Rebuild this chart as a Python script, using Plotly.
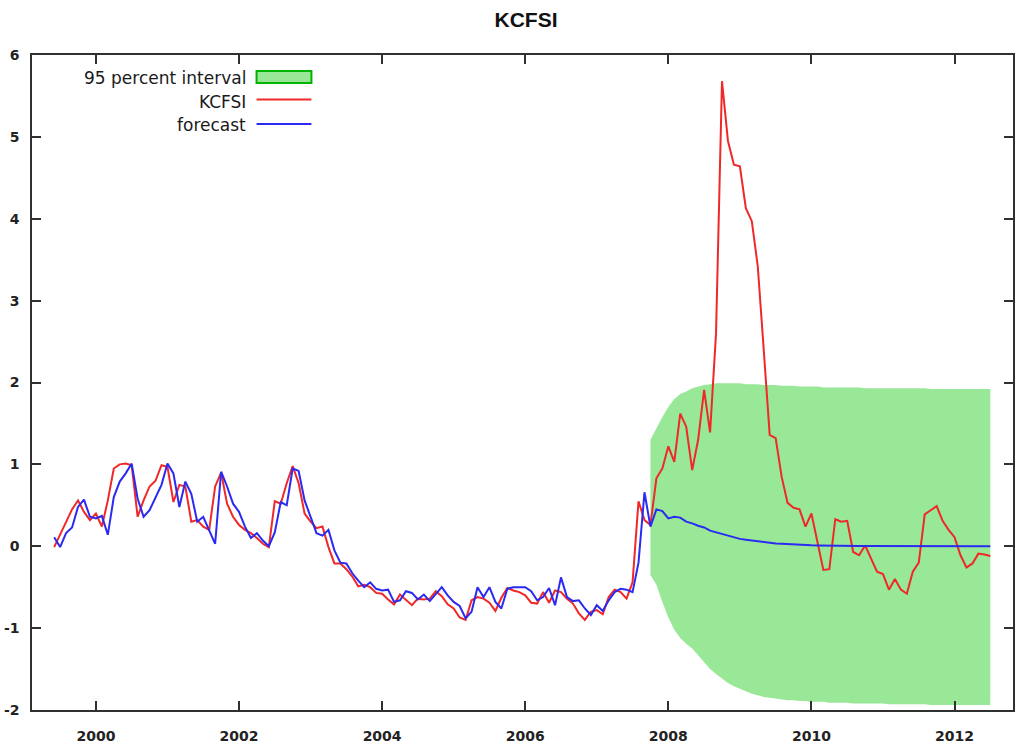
import plotly.graph_objects as go

# ---- data (monthly, 1999:06 .. 2012:07) ----
start_year, start_month = 1999, 6

kcfsi = [
    -0.01, 0.15, 0.30, 0.45, 0.56, 0.42, 0.32, 0.40, 0.24, 0.56,
    0.95, 1.00, 1.01, 0.99, 0.36, 0.56, 0.73, 0.80, 0.99, 0.97,
    0.54, 0.75, 0.73, 0.30, 0.32, 0.24, 0.20, 0.73, 0.90, 0.52,
    0.36, 0.26, 0.20, 0.16, 0.10, 0.03, -0.01, 0.55, 0.52, 0.77,
    0.98, 0.77, 0.40, 0.30, 0.22, 0.24, -0.01, -0.21, -0.21, -0.28,
    -0.37, -0.49, -0.47, -0.50, -0.57, -0.58, -0.65, -0.71, -0.59, -0.65,
    -0.72, -0.64, -0.65, -0.64, -0.55, -0.61, -0.71, -0.76, -0.87, -0.90,
    -0.66, -0.62, -0.64, -0.69, -0.79, -0.63, -0.51, -0.54, -0.56, -0.60,
    -0.69, -0.70, -0.56, -0.69, -0.54, -0.56, -0.64, -0.70, -0.82, -0.90,
    -0.80, -0.78, -0.83, -0.62, -0.53, -0.56, -0.64, -0.44, 0.55, 0.32,
    0.26, 0.83, 0.95, 1.22, 1.03, 1.62, 1.46, 0.93, 1.30, 1.91,
    1.39, 2.60, 5.68, 4.95, 4.66, 4.64, 4.13, 3.97, 3.42, 2.40,
    1.36, 1.32, 0.85, 0.53, 0.47, 0.45, 0.24, 0.40, 0.05, -0.29,
    -0.28, 0.33, 0.30, 0.31, -0.07, -0.11, 0.01, -0.15, -0.31, -0.34,
    -0.53, -0.40, -0.53, -0.58, -0.31, -0.20, 0.39, 0.44, 0.49, 0.31,
    0.20, 0.11, -0.11, -0.26, -0.21, -0.09, -0.10, -0.12,
]

forecast = [
    0.11, -0.01, 0.16, 0.23, 0.48, 0.57, 0.36, 0.34, 0.37, 0.14,
    0.60, 0.79, 0.89, 1.01, 0.58, 0.36, 0.44, 0.60, 0.75, 1.01,
    0.89, 0.48, 0.79, 0.64, 0.30, 0.36, 0.20, 0.03, 0.91, 0.73,
    0.52, 0.42, 0.24, 0.10, 0.16, 0.07, 0.00, 0.17, 0.54, 0.50,
    0.95, 0.92, 0.56, 0.36, 0.16, 0.13, 0.20, -0.05, -0.20, -0.21,
    -0.33, -0.42, -0.50, -0.44, -0.52, -0.54, -0.53, -0.68, -0.66, -0.55,
    -0.57, -0.65, -0.59, -0.67, -0.58, -0.50, -0.60, -0.68, -0.73, -0.88,
    -0.80, -0.50, -0.62, -0.50, -0.68, -0.76, -0.52, -0.50, -0.50, -0.50,
    -0.55, -0.66, -0.62, -0.51, -0.72, -0.38, -0.62, -0.67, -0.66, -0.76,
    -0.84, -0.72, -0.79, -0.66, -0.56, -0.52, -0.53, -0.56, -0.20, 0.66,
    0.24, 0.45, 0.43, 0.34, 0.36, 0.35, 0.30, 0.28, 0.25, 0.23,
    0.19, 0.17, 0.15, 0.13, 0.11, 0.09, 0.08, 0.07, 0.06, 0.05,
    0.04, 0.035, 0.03, 0.025, 0.02, 0.018, 0.015, 0.012, 0.010, 0.008,
    0.007, 0.006, 0.005, 0.004, 0.004, 0.003, 0.003, 0.003, 0.002, 0.002,
    0.002, 0.002, 0.001, 0.001, 0.001, 0.001, 0.001, 0.001, 0.0, 0.0,
    0.0, 0.0, 0.0, 0.0, 0.0, 0.0, 0.0, 0.0,
]

# 95 percent interval, from 2007:10 to 2012:07
band_start_index = 100
band_upper = [
    1.30, 1.44, 1.58, 1.70, 1.80, 1.86, 1.89, 1.93, 1.95, 1.97,
    1.98, 1.99, 1.99, 1.99, 1.99, 1.99, 1.98, 1.98, 1.98, 1.97,
    1.97, 1.97, 1.96, 1.96, 1.96, 1.95, 1.95, 1.95, 1.95, 1.94,
    1.94, 1.94, 1.94, 1.94, 1.94, 1.94, 1.93, 1.93, 1.93, 1.93,
    1.93, 1.93, 1.93, 1.93, 1.93, 1.93, 1.93, 1.92, 1.92, 1.92,
    1.92, 1.92, 1.92, 1.92, 1.92, 1.92, 1.92, 1.92,
]
band_lower = [
    -0.35, -0.47, -0.68, -0.87, -1.02, -1.12, -1.19, -1.25, -1.33, -1.42,
    -1.50, -1.56, -1.62, -1.67, -1.71, -1.74, -1.77, -1.80, -1.82, -1.84,
    -1.85, -1.86, -1.87, -1.88, -1.88, -1.89, -1.89, -1.90, -1.90, -1.90,
    -1.91, -1.91, -1.91, -1.91, -1.92, -1.92, -1.92, -1.92, -1.92, -1.92,
    -1.93, -1.93, -1.93, -1.93, -1.93, -1.93, -1.93, -1.94, -1.94, -1.94,
    -1.94, -1.94, -1.94, -1.94, -1.94, -1.94, -1.94, -1.94,
]

x_tick_vals = [2000, 2002, 2004, 2006, 2008, 2010, 2012]
y_tick_vals = [-2, -1, 0, 1, 2, 3, 4, 5, 6]

# decimal-year time index (gretl style: year + (month-1)/12)
t = [start_year + (start_month - 1 + k) / 12.0 for k in range(len(kcfsi))]
t_band = t[band_start_index:band_start_index + len(band_upper)]

# ---- layout geometry ----
W, H = 1018, 749
ML, MR, MT, MB = 32, 3, 55, 39
PW, PH = W - ML - MR, H - MT - MB


def px(x):
    return (x - ML) / PW


def py(y):
    return (H - MB - y) / PH


GREEN_FILL = "#98e898"
RED = "#f02828"
BLUE = "#2a2af0"

fig = go.Figure()
fig.add_trace(go.Scatter(x=t_band, y=band_lower, mode="lines",
                         line=dict(width=0, color=GREEN_FILL),
                         showlegend=False, hoverinfo="skip"))
fig.add_trace(go.Scatter(x=t_band, y=band_upper, mode="lines",
                         line=dict(width=0, color=GREEN_FILL),
                         fill="tonexty", fillcolor=GREEN_FILL,
                         name="95 percent interval", showlegend=False))
fig.add_trace(go.Scatter(x=t, y=kcfsi, mode="lines",
                         line=dict(color=RED, width=2),
                         name="KCFSI", showlegend=False))
fig.add_trace(go.Scatter(x=t, y=forecast, mode="lines",
                         line=dict(color=BLUE, width=2),
                         name="forecast", showlegend=False))

axis_common = dict(
    showgrid=False, zeroline=False, showline=True, linecolor="#303030",
    linewidth=1.5, mirror="ticks", ticks="inside", ticklen=9,
    tickwidth=1.5, tickcolor="#303030",
    tickfont=dict(family="DejaVu Sans", size=14, color="#222222", weight="bold"),
)

fig.update_xaxes(range=[1999.107, 2012.817], tickvals=x_tick_vals,
                 ticktext=[str(v) for v in x_tick_vals],
                 ticklabelstandoff=12, **axis_common)
fig.update_yaxes(range=[-2, 6], tickvals=y_tick_vals,
                 ticktext=[str(v) for v in y_tick_vals],
                 ticklabelstandoff=8, **axis_common)

# legend drawn in gnuplot style (text right, key sample to the right)
legend_font = dict(family="DejaVu Sans", size=17, color="#1a1a1a")
annotations = [
    dict(x=px(248), y=py(78), xref="paper", yref="paper", text="95 percent interval",
         showarrow=False, xanchor="right", yanchor="middle", font=legend_font),
    dict(x=px(248), y=py(102), xref="paper", yref="paper", text="KCFSI",
         showarrow=False, xanchor="right", yanchor="middle", font=legend_font),
    dict(x=px(248), y=py(125), xref="paper", yref="paper", text="forecast",
         showarrow=False, xanchor="right", yanchor="middle", font=legend_font),
]
shapes = [
    dict(type="rect", xref="paper", yref="paper", x0=px(257), x1=px(312),
         y0=py(83), y1=py(71), fillcolor=GREEN_FILL,
         line=dict(color="#00b400", width=2)),
    dict(type="line", xref="paper", yref="paper", x0=px(257), x1=px(312),
         y0=py(99.5), y1=py(99.5), line=dict(color=RED, width=2)),
    dict(type="line", xref="paper", yref="paper", x0=px(257), x1=px(312),
         y0=py(124), y1=py(124), line=dict(color=BLUE, width=2)),
]

fig.update_layout(
    width=W, height=H,
    margin=dict(l=ML, r=MR, t=MT, b=MB, pad=0),
    paper_bgcolor="white", plot_bgcolor="white",
    title=dict(text="<b>KCFSI</b>", x=px(527), xref="paper", xanchor="center",
               y=1 - 20 / H, yref="container", yanchor="middle",
               font=dict(family="Liberation Sans", size=21, color="#111111")),
    annotations=annotations, shapes=shapes, showlegend=False,
)

fig.write_html("out.html")
